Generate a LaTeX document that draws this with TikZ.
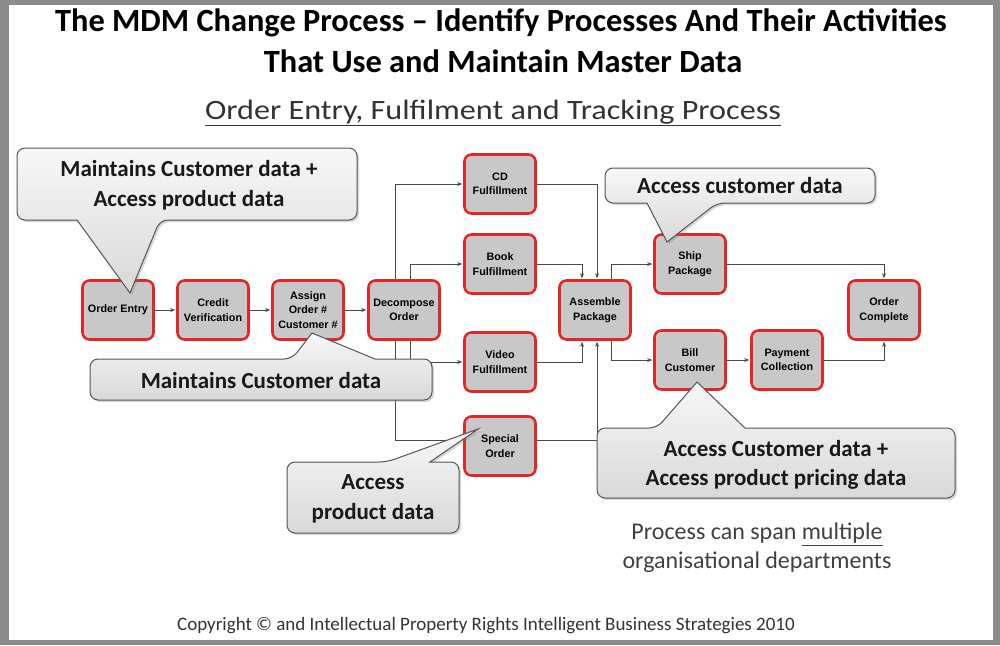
\documentclass[tikz,border=0pt]{standalone}
\usepackage{fontspec}
\setmainfont{Carlito}
\newfontfamily\boxfont{Liberation Sans}
\usetikzlibrary{arrows.meta,shadows}
\definecolor{framegray}{HTML}{8C8C8C}
\definecolor{procred}{HTML}{E32626}
\definecolor{procfill}{HTML}{C8C8C8}
\definecolor{linegray}{HTML}{4A4A4A}
\definecolor{calloutline}{HTML}{555555}
\begin{document}
\begin{tikzpicture}[x=1pt,y=-1pt,
  proc/.style={draw=procred, line width=2.6pt, fill=procfill, rounded corners=7pt,
    minimum width=71pt, minimum height=59pt, align=center, inner sep=1pt,
    font=\boxfont\bfseries\fontsize{10.8}{14.5}\selectfont},
  conn/.style={draw=linegray, line width=0.8pt, shorten >=1pt, -{Stealth[length=5pt,width=4pt]}},
  callout/.style={draw=calloutline, line width=1pt, top color=gray!6, bottom color=gray!30,
    drop shadow={opacity=0.3, shadow xshift=2pt, shadow yshift=-2pt}},
  ctext/.style={align=center, font=\bfseries\fontsize{23}{29.5}\selectfont, text=black!90},
]
\useasboundingbox (0,0) rectangle (1000,645);
\fill[framegray] (0,0) rectangle (1000,645);
\fill[white] (9,5) rectangle (993,640);

% titles
\node[font=\bfseries\fontsize{32.4}{36}\selectfont] (t1) at (501,23) {The MDM Change Process – Identify Processes And Their Activities};
\node[font=\bfseries\fontsize{32.4}{36}\selectfont] (t2) at (503,61) {That Use and Maintain Master Data};
\node[font=\fontsize{28}{32}\selectfont, text=black!80] (sub) at (493,113) {\scalebox{1.15}[1]{\underline{Order Entry, Fulfilment and Tracking Process}}};

% process boxes
\node[proc] (oe) at (118,310) {Order Entry};
\node[proc] (cv) at (213,310) {Credit\\Verification};
\node[proc] (ao) at (308,310) {Assign\\Order \#\\Customer \#};
\node[proc] (dec) at (404,310) {Decompose\\Order};
\node[proc] (cd) at (500,184) {CD\\Fulfillment};
\node[proc] (book) at (500,264) {Book\\Fulfillment};
\node[proc] (video) at (500,362) {Video\\Fulfillment};
\node[proc] (spec) at (500,446) {Special\\Order};
\node[proc] (asm) at (595,310) {Assemble\\Package};
\node[proc] (ship) at (690,264) {Ship\\Package};
\node[proc] (bill) at (690,360) {Bill\\Customer};
\node[proc] (pay) at (787,360) {Payment\\Collection};
\node[proc] (done) at (884,310) {Order\\Complete};

% connectors
\draw[conn] (oe.east) -- (cv.west);
\draw[conn] (cv.east) -- (ao.west);
\draw[conn] (ao.east) -- (dec.west);
\draw[conn] ([xshift=-9pt]dec.north) |- (cd.west);
\draw[conn] ([xshift=6pt]dec.north) |- (book.west);
\draw[conn] ([xshift=6pt]dec.south) |- (video.west);
\draw[conn] ([xshift=-9pt]dec.south) |- ([yshift=6pt]spec.west);
\draw[conn] (cd.east) -| ([xshift=2pt]asm.north);
\draw[conn] (book.east) -| ([xshift=-13pt]asm.north);
\draw[conn] (video.east) -| ([xshift=-13pt]asm.south);
\draw[conn] ([yshift=6pt]spec.east) -| ([xshift=2pt]asm.south);
\draw[conn] ([xshift=16pt]asm.north) |- (ship.west);
\draw[conn] ([xshift=16pt]asm.south) |- (bill.west);
\draw[conn] (ship.east) -| (done.north);
\draw[conn] (bill.east) -- (pay.west);
\draw[conn] (pay.east) -| (done.south);

% callouts
\path[callout, rounded corners=8pt] (17,148) -- (357,148) -- (357,220) -- (160,220) [sharp corners] -- (130,293) -- (77,220) [rounded corners=8pt] -- (17,220) -- cycle;
\node[ctext] (c1) at (189,185) {Maintains Customer data +\\Access product data};

\path[callout, rounded corners=8pt] (90,359) -- (292,359) [sharp corners] -- (312,333) -- (375,359) [rounded corners=8pt] -- (432,359) -- (432,400) -- (90,400) -- cycle;
\node[ctext] (c2) at (261,381) {Maintains Customer data};

\path[callout, rounded corners=8pt] (287,462) -- (387,462) [sharp corners] -- (478,429) -- (430,462) [rounded corners=8pt] -- (459,462) -- (459,533) -- (287,533) -- cycle;
\node[ctext] (c3) at (373,499) {Access\\product data};

\path[callout, rounded corners=8pt] (605,168) -- (875,168) -- (875,203) -- (717,203) [sharp corners] -- (667,242) -- (647,203) [rounded corners=8pt] -- (605,203) -- cycle;
\node[ctext] (c4) at (740,186) {Access customer data};

\path[callout, rounded corners=8pt] (597,428) -- (657,428) [sharp corners] -- (697,382) -- (745,428) [rounded corners=8pt] -- (955,428) -- (955,498) -- (597,498) -- cycle;
\node[ctext] (c5) at (776,465) {Access Customer data +\\Access product pricing data};

% notes
\node[align=center, font=\fontsize{24}{29}\selectfont, text=black!75] (note) at (757,548) {Process can span \underline{multiple}\\organisational departments};
\node[font=\fontsize{19}{22}\selectfont, text=black!80] (copy) at (486,626) {Copyright © and Intellectual Property Rights Intelligent Business Strategies 2010};
\end{tikzpicture}
\end{document}
